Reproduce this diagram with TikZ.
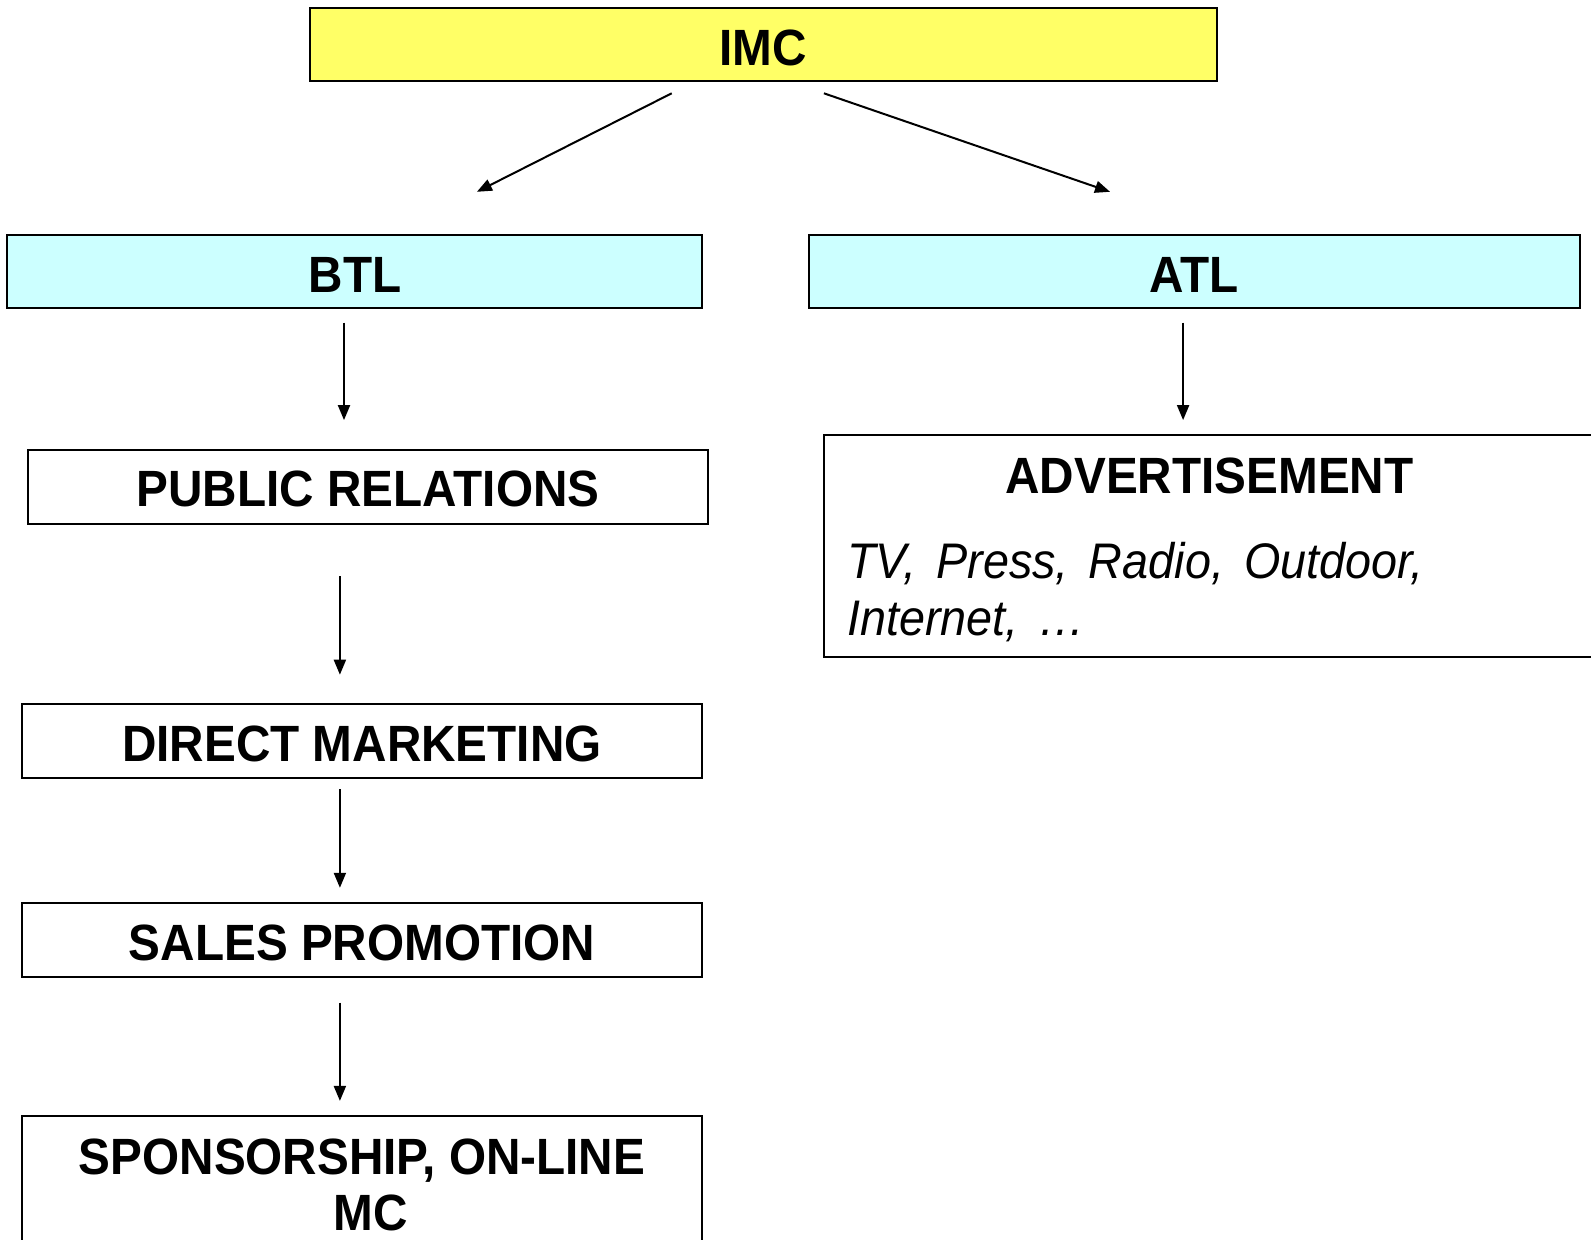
\documentclass[tikz,border=0pt]{standalone}
\usepackage{fontspec}
\setmainfont{Liberation Sans}
\newfontfamily\hv[FakeStretch=0.935]{Liberation Sans}
\usetikzlibrary{arrows.meta}
\definecolor{imcyellow}{HTML}{FFFF66}
\definecolor{tlcyan}{HTML}{CCFFFF}
\newcommand\wsp{\hspace{20pt}}
\begin{document}
\begin{tikzpicture}[x=1pt,y=-1pt,
 box/.style={draw=black, line width=2pt, rectangle, anchor=north west, inner sep=0pt, outer sep=0pt},
 lbl/.style={anchor=base, inner sep=0pt, font=\hv\bfseries\fontsize{51}{57}\selectfont},
 itl/.style={anchor=base west, inner sep=0pt, font=\hv\itshape\fontsize{50}{57}\selectfont},
 arr/.style={line width=2pt, -{Triangle[length=15pt,width=12pt]}}]
\clip (0,0) rectangle (1591,1240);
\fill[white] (0,0) rectangle (1591,1240);

% boxes
\node[box, fill=imcyellow, minimum width=907pt, minimum height=73pt] (imc) at (309.5,8.1) {};
\node[box, fill=tlcyan, minimum width=695pt, minimum height=73pt] (btl) at (7.1,235.4) {};
\node[box, fill=tlcyan, minimum width=771pt, minimum height=73pt] (atl) at (808.7,235.4) {};
\node[box, fill=white, minimum width=680pt, minimum height=74pt] (pr) at (28.4,449.5) {};
\node[box, fill=white, minimum width=680pt, minimum height=74pt] (dm) at (22.3,704.2) {};
\node[box, fill=white, minimum width=680pt, minimum height=74pt] (sp) at (22.3,903.1) {};
\node[box, fill=white, minimum width=680pt, minimum height=160pt] (spon) at (22.3,1116.1) {};
\node[box, fill=white, minimum width=780pt, minimum height=222pt] (adv) at (823.9,435.3) {};

% texts
\node[lbl] (imct) at (763,65) {IMC};
\node[lbl] (btlt) at (355,292) {BTL};
\node[lbl] (atlt) at (1194,292) {ATL};
\node[lbl] (prt) at (368,506.3) {PUBLIC RELATIONS};
\node[lbl] (dmt) at (362,761) {DIRECT MARKETING};
\node[lbl] (spt) at (362,960) {SALES PROMOTION};
\node[lbl] (spont1) at (362,1174) {SPONSORSHIP, ON-LINE};
\node[lbl] (spont2) at (371,1230) {MC};
\node[lbl] (advt) at (1209.5,493) {ADVERTISEMENT};
\node[itl] (advi1) at (847,578.4) {TV,\wsp Press,\wsp Radio,\wsp Outdoor,};
\node[itl] (advi2) at (847,635) {Internet,\wsp\ldots};

% arrow end points
\coordinate (a1s) at (671.7,93.3);  \coordinate (a1e) at (476.9,191.8);
\coordinate (a2s) at (823.9,93.3);  \coordinate (a2e) at (1110,191.8);
\coordinate (a3s) at (344,322.7);   \coordinate (a3e) at (344,420.1);
\coordinate (a4s) at (339.9,576.3); \coordinate (a4e) at (339.9,674.7);
\coordinate (a5s) at (339.9,789.4); \coordinate (a5e) at (339.9,887.8);
\coordinate (a6s) at (339.9,1002.5);\coordinate (a6e) at (339.9,1100.9);
\coordinate (a7s) at (1183.1,322.7);\coordinate (a7e) at (1183.1,420.1);

\draw[arr] (a1s) -- (a1e);
\draw[arr] (a2s) -- (a2e);
\draw[arr] (a3s) -- (a3e);
\draw[arr] (a4s) -- (a4e);
\draw[arr] (a5s) -- (a5e);
\draw[arr] (a6s) -- (a6e);
\draw[arr] (a7s) -- (a7e);
\end{tikzpicture}
\end{document}
